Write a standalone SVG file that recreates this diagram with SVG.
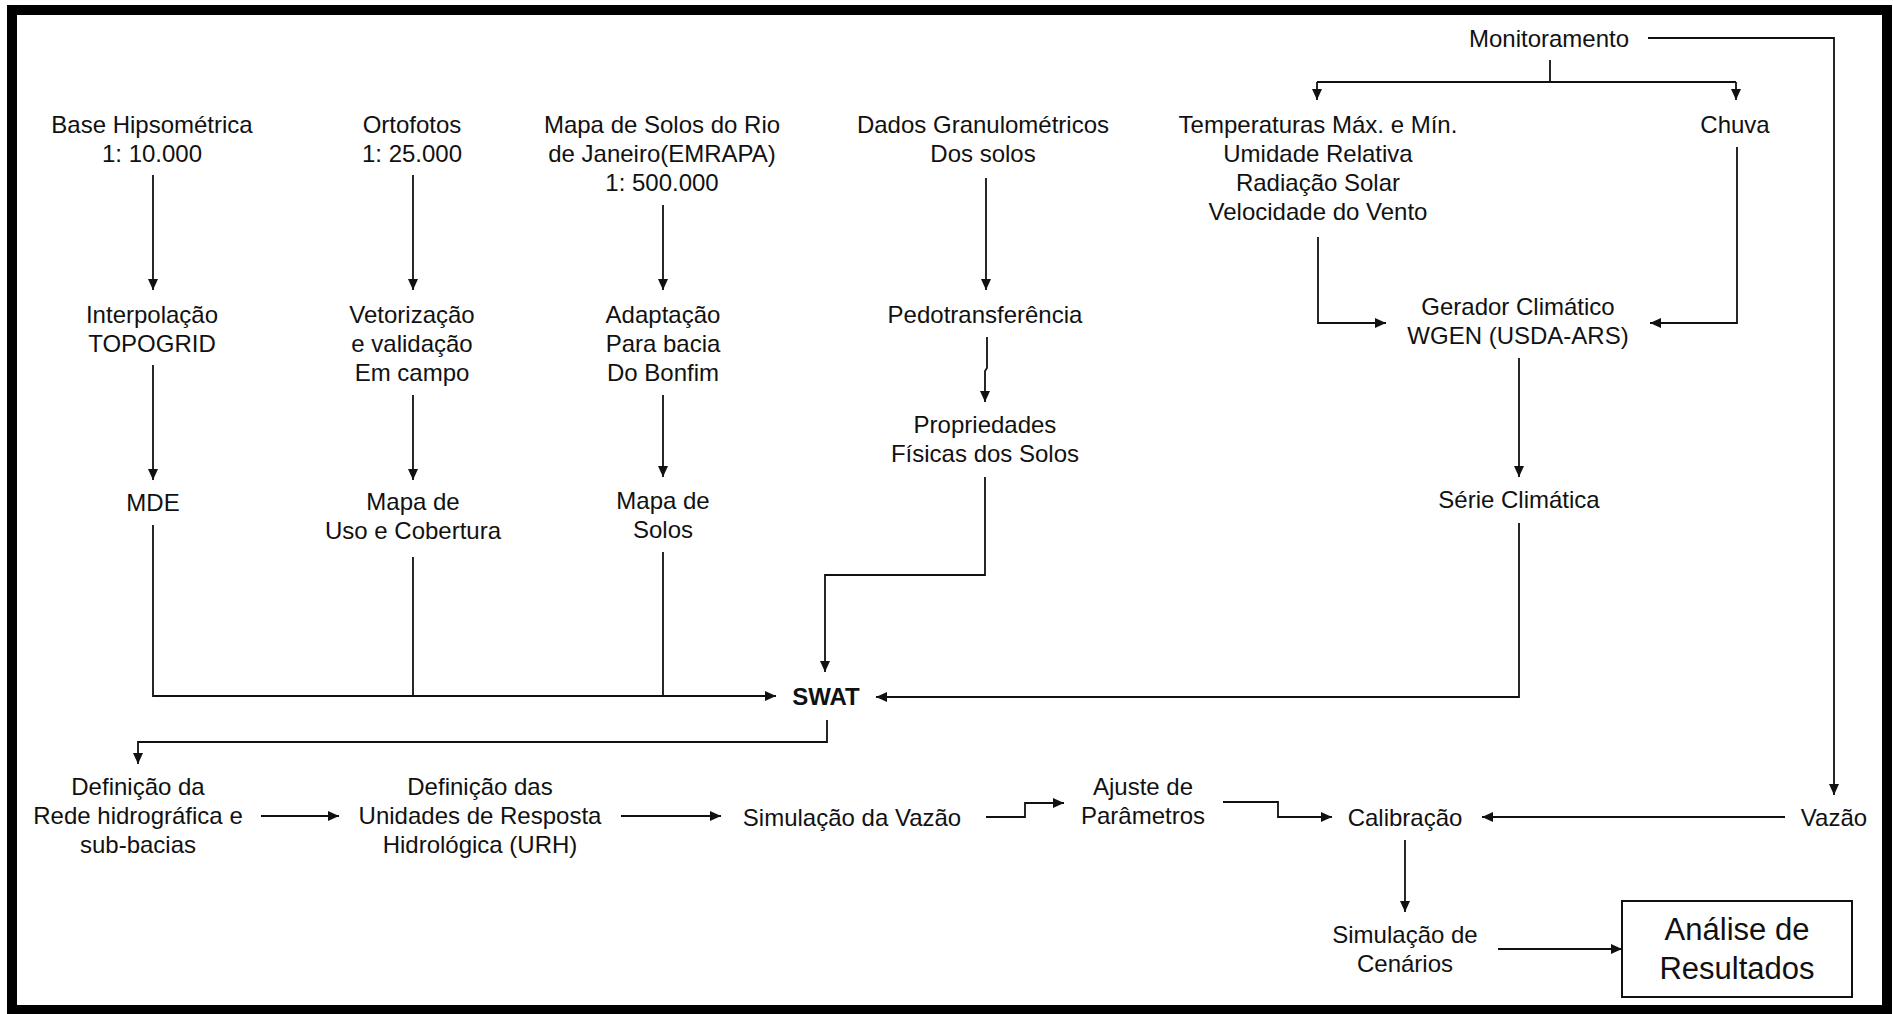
<svg xmlns="http://www.w3.org/2000/svg" width="1893" height="1014" viewBox="0 0 1893 1014">
<style>
.t{font-family:"Liberation Sans",Arial,sans-serif;font-size:24px;text-anchor:middle;fill:#111}
.b{font-weight:bold}
.big{font-size:31px}
.c{fill:none;stroke:#111;stroke-width:1.8}
</style>
<defs>
<marker id="ah" markerUnits="userSpaceOnUse" markerWidth="12" markerHeight="10" refX="11" refY="5" orient="auto">
<path d="M0,0 L11,5 L0,10 z" fill="#111"/>
</marker>
</defs>
<rect x="0" y="0" width="1893" height="1014" fill="#fff"/>
<rect x="12" y="10" width="1875" height="1000" fill="none" stroke="#000" stroke-width="10"/>

<g id="connectors">
<path class="c" d="M153,175 V290" marker-end="url(#ah)"/>
<path class="c" d="M413,175 V290" marker-end="url(#ah)"/>
<path class="c" d="M663,205 V290" marker-end="url(#ah)"/>
<path class="c" d="M986,178 V290" marker-end="url(#ah)"/>
<path class="c" d="M1550,60 V82 M1317,82 H1736"/>
<path class="c" d="M1317,82 V100" marker-end="url(#ah)"/>
<path class="c" d="M1736,82 V100" marker-end="url(#ah)"/>
<path class="c" d="M1648,38 H1834 V795" marker-end="url(#ah)"/>
<path class="c" d="M1318,237 V323 H1386" marker-end="url(#ah)"/>
<path class="c" d="M1737,147 V323 H1650" marker-end="url(#ah)"/>
<path class="c" d="M1519,358 V477" marker-end="url(#ah)"/>
<path class="c" d="M153,365 V480" marker-end="url(#ah)"/>
<path class="c" d="M413,395 V480" marker-end="url(#ah)"/>
<path class="c" d="M663,395 V477" marker-end="url(#ah)"/>
<path class="c" d="M987,337 V368 L985,371 V402" marker-end="url(#ah)"/>
<path class="c" d="M153,525 V696 H776" marker-end="url(#ah)"/>
<path class="c" d="M413,557 V696"/>
<path class="c" d="M663,552 V696"/>
<path class="c" d="M985,477 V575 H825 V672" marker-end="url(#ah)"/>
<path class="c" d="M1519,523 V697 H876" marker-end="url(#ah)"/>
<path class="c" d="M827,720 V742 H138 V764" marker-end="url(#ah)"/>
<path class="c" d="M261,816 H339" marker-end="url(#ah)"/>
<path class="c" d="M621,816 H721" marker-end="url(#ah)"/>
<path class="c" d="M986,817 H1025 V803 H1064" marker-end="url(#ah)"/>
<path class="c" d="M1223,802 H1278 V817 H1332" marker-end="url(#ah)"/>
<path class="c" d="M1785,817 H1482" marker-end="url(#ah)"/>
<path class="c" d="M1405,840 V912" marker-end="url(#ah)"/>
<path class="c" d="M1498,949 H1622" marker-end="url(#ah)"/>
</g>

<g id="base"><text class="t" x="152" y="133">Base Hipsométrica</text><text class="t" x="152" y="162">1: 10.000</text></g>
<g id="ortofotos"><text class="t" x="412" y="133">Ortofotos</text><text class="t" x="412" y="162">1: 25.000</text></g>
<g id="mapasolosrio"><text class="t" x="662" y="133">Mapa de Solos do Rio</text><text class="t" x="662" y="162">de Janeiro(EMRAPA)</text><text class="t" x="662" y="191">1: 500.000</text></g>
<g id="dados"><text class="t" x="983" y="133">Dados Granulométricos</text><text class="t" x="983" y="162">Dos solos</text></g>
<g id="monitoramento"><text class="t" x="1549" y="47">Monitoramento</text></g>
<g id="temperaturas"><text class="t" x="1318" y="133">Temperaturas Máx. e Mín.</text><text class="t" x="1318" y="162">Umidade Relativa</text><text class="t" x="1318" y="191">Radiação Solar</text><text class="t" x="1318" y="220">Velocidade do Vento</text></g>
<g id="chuva"><text class="t" x="1735" y="133">Chuva</text></g>
<g id="interpolacao"><text class="t" x="152" y="323">Interpolação</text><text class="t" x="152" y="352">TOPOGRID</text></g>
<g id="vetorizacao"><text class="t" x="412" y="323">Vetorização</text><text class="t" x="412" y="352">e validação</text><text class="t" x="412" y="381">Em campo</text></g>
<g id="adaptacao"><text class="t" x="663" y="323">Adaptação</text><text class="t" x="663" y="352">Para bacia</text><text class="t" x="663" y="381">Do Bonfim</text></g>
<g id="pedotransferencia"><text class="t" x="985" y="323">Pedotransferência</text></g>
<g id="gerador"><text class="t" x="1518" y="315">Gerador Climático</text><text class="t" x="1518" y="344">WGEN (USDA-ARS)</text></g>
<g id="propriedades"><text class="t" x="985" y="433">Propriedades</text><text class="t" x="985" y="462">Físicas dos Solos</text></g>
<g id="mde"><text class="t" x="153" y="511">MDE</text></g>
<g id="mapauso"><text class="t" x="413" y="510">Mapa de</text><text class="t" x="413" y="539">Uso e Cobertura</text></g>
<g id="mapasolos"><text class="t" x="663" y="509">Mapa de</text><text class="t" x="663" y="538">Solos</text></g>
<g id="serie"><text class="t" x="1519" y="508">Série Climática</text></g>
<g id="swat"><text class="t b" x="826" y="705">SWAT</text></g>
<g id="rede"><text class="t" x="138" y="795">Definição da</text><text class="t" x="138" y="824">Rede hidrográfica e</text><text class="t" x="138" y="853">sub-bacias</text></g>
<g id="urh"><text class="t" x="480" y="795">Definição das</text><text class="t" x="480" y="824">Unidades de Resposta</text><text class="t" x="480" y="853">Hidrológica (URH)</text></g>
<g id="simvazao"><text class="t" x="852" y="826">Simulação da Vazão</text></g>
<g id="ajuste"><text class="t" x="1143" y="795">Ajuste de</text><text class="t" x="1143" y="824">Parâmetros</text></g>
<g id="calibracao"><text class="t" x="1405" y="826">Calibração</text></g>
<g id="vazao"><text class="t" x="1834" y="826">Vazão</text></g>
<g id="cenarios"><text class="t" x="1405" y="943">Simulação de</text><text class="t" x="1405" y="972">Cenários</text></g>
<g id="analise"><rect x="1622" y="901" width="230" height="96" fill="#fff" stroke="#111" stroke-width="2"/><text class="t big" x="1737" y="940">Análise de</text><text class="t big" x="1737" y="979">Resultados</text></g>
</svg>
